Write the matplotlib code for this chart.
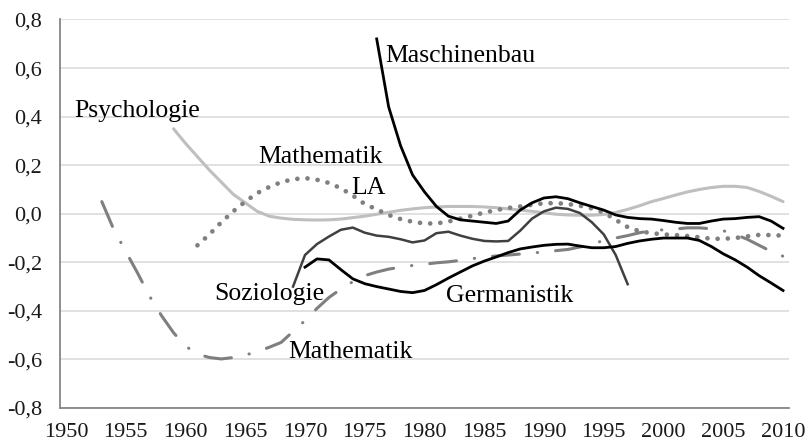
import matplotlib
matplotlib.use("Agg")
import matplotlib.pyplot as plt
from matplotlib.ticker import FixedLocator, FuncFormatter

plt.rcParams['font.family'] = ['Liberation Serif', 'DejaVu Serif']

# ---------------- data ----------------
masch_years = list(range(1976, 2011))
masch_vals = [0.72, 0.44, 0.28, 0.16, 0.09, 0.03, -0.01, -0.025, -0.03, -0.035,
              -0.04, -0.03, 0.015, 0.045, 0.065, 0.07, 0.062, 0.045, 0.03, 0.015,
              -0.005, -0.015, -0.02, -0.022, -0.028, -0.035, -0.04, -0.04, -0.03, -0.022,
              -0.02, -0.015, -0.012, -0.03, -0.06]

psych_years = list(range(1959, 2011))
psych_vals = [0.35, 0.29, 0.235, 0.18, 0.13, 0.08, 0.045, 0.01, -0.01, -0.018,
              -0.023, -0.025, -0.026, -0.025, -0.022, -0.016, -0.01, -0.002, 0.006, 0.014,
              0.02, 0.025, 0.028, 0.03, 0.03, 0.03, 0.028, 0.025, 0.02, 0.015,
              0.01, 0.004, -0.002, -0.005, -0.006, -0.006, -0.003, 0.005, 0.018, 0.033,
              0.05, 0.063, 0.077, 0.09, 0.1, 0.108, 0.113, 0.113, 0.108, 0.092,
              0.072, 0.05]

mla_years = list(range(1961, 2011))
mla_vals = [-0.13, -0.085, -0.035, 0.01, 0.05, 0.085, 0.11, 0.13, 0.142, 0.147,
            0.14, 0.127, 0.105, 0.075, 0.04, 0.018, -0.005, -0.022, -0.033, -0.04,
            -0.04, -0.032, -0.02, -0.008, 0.005, 0.015, 0.024, 0.03, 0.037, 0.043,
            0.044, 0.04, 0.033, 0.022, 0.005, -0.025, -0.055, -0.072, -0.08, -0.085,
            -0.088, -0.092, -0.097, -0.103, -0.103, -0.1, -0.093, -0.087, -0.088, -0.09]

soz_years = list(range(1969, 1998))
soz_vals = [-0.30, -0.17, -0.125, -0.094, -0.066, -0.057, -0.078, -0.09, -0.095, -0.105,
            -0.118, -0.11, -0.08, -0.074, -0.09, -0.103, -0.112, -0.114, -0.112, -0.07,
            -0.02, 0.01, 0.025, 0.02, 0.003, -0.035, -0.085, -0.17, -0.29]

germ_years = list(range(1970, 2011))
germ_vals = [-0.22, -0.186, -0.19, -0.23, -0.268, -0.288, -0.30, -0.31, -0.32, -0.325,
             -0.316, -0.292, -0.265, -0.24, -0.215, -0.195, -0.178, -0.16, -0.145, -0.137,
             -0.13, -0.126, -0.125, -0.133, -0.14, -0.14, -0.135, -0.122, -0.112, -0.105,
             -0.10, -0.10, -0.10, -0.11, -0.135, -0.165, -0.19, -0.22, -0.255, -0.285,
             -0.316]

math_years = list(range(1953, 2011))
math_vals = [0.05, -0.065, -0.155, -0.245, -0.34, -0.42, -0.49, -0.545, -0.578, -0.592,
             -0.598, -0.592, -0.582, -0.568, -0.55, -0.53, -0.485, -0.44, -0.39, -0.345,
             -0.31, -0.28, -0.255, -0.24, -0.228, -0.22, -0.213, -0.208, -0.202, -0.198,
             -0.192, -0.185, -0.178, -0.174, -0.17, -0.166, -0.162, -0.157, -0.152, -0.147,
             -0.137, -0.125, -0.11, -0.10, -0.09, -0.078, -0.07, -0.066, -0.063, -0.058,
             -0.058, -0.062, -0.07, -0.085, -0.105, -0.13, -0.155, -0.175]

x_ticks = list(range(1950, 2011, 5))
y_ticks = [-0.8, -0.6, -0.4, -0.2, 0.0, 0.2, 0.4, 0.6, 0.8]

labels = [
    ("Maschinenbau", 1976.7, 0.626),
    ("Psychologie", 1950.7, 0.40),
    ("Mathematik", 1966.1, 0.21),
    ("LA", 1973.9, 0.082),
    ("Soziologie", 1962.4, -0.354),
    ("Germanistik", 1981.8, -0.362),
    ("Mathematik", 1968.6, -0.593),
]

# ---------------- figure ----------------
fig = plt.figure(figsize=(8.07, 4.44), dpi=100)
ax = fig.add_axes([60/807, 1-408/444, (789-60)/807, (408-19.5)/444])

ax.plot(psych_years, psych_vals, color='#bfbfbf', lw=2.2, solid_capstyle='round', zorder=3)
ax.plot(mla_years, mla_vals, color='#808080', lw=3.4, linestyle=(0, (0.01, 2.15)),
        dash_capstyle='round', zorder=3)
ax.plot(math_years, math_vals, color='#7f7f7f', lw=2.2, linestyle=(0, (8.8, 5.9, 0.1, 5.9)),
        dash_capstyle='round', zorder=3)
ax.plot(soz_years, soz_vals, color='#404040', lw=1.8, zorder=4)
ax.plot(germ_years, germ_vals, color='#000000', lw=2.0, zorder=4)
ax.plot(masch_years, masch_vals, color='#000000', lw=2.0, zorder=4)

for txt, x, y in labels:
    ax.text(x, y, txt, fontsize=18.5, color='#000000', ha='left', va='baseline', zorder=5)

ax.set_xlim(1949.5, 2010.5)
ax.set_ylim(-0.8, 0.8)
ax.xaxis.set_major_locator(FixedLocator(x_ticks))
ax.yaxis.set_major_locator(FixedLocator(y_ticks))
ax.yaxis.set_major_formatter(FuncFormatter(lambda v, p: f"{v:.1f}".replace('.', ',').replace('-0,0', '0,0')))
ax.grid(axis='y', color='#d9d9d9', lw=1.1, zorder=0)
ax.set_axisbelow(True)
for s in ['top', 'right']:
    ax.spines[s].set_visible(False)
for s in ['left', 'bottom']:
    ax.spines[s].set_color('#868686')
    ax.spines[s].set_linewidth(1.3)
ax.tick_params(axis='both', length=0, labelsize=16, labelcolor='#1a1a1a')
ax.tick_params(axis='y', pad=13)
ax.tick_params(axis='x', pad=11)

fig.savefig('out.png', dpi=100)
